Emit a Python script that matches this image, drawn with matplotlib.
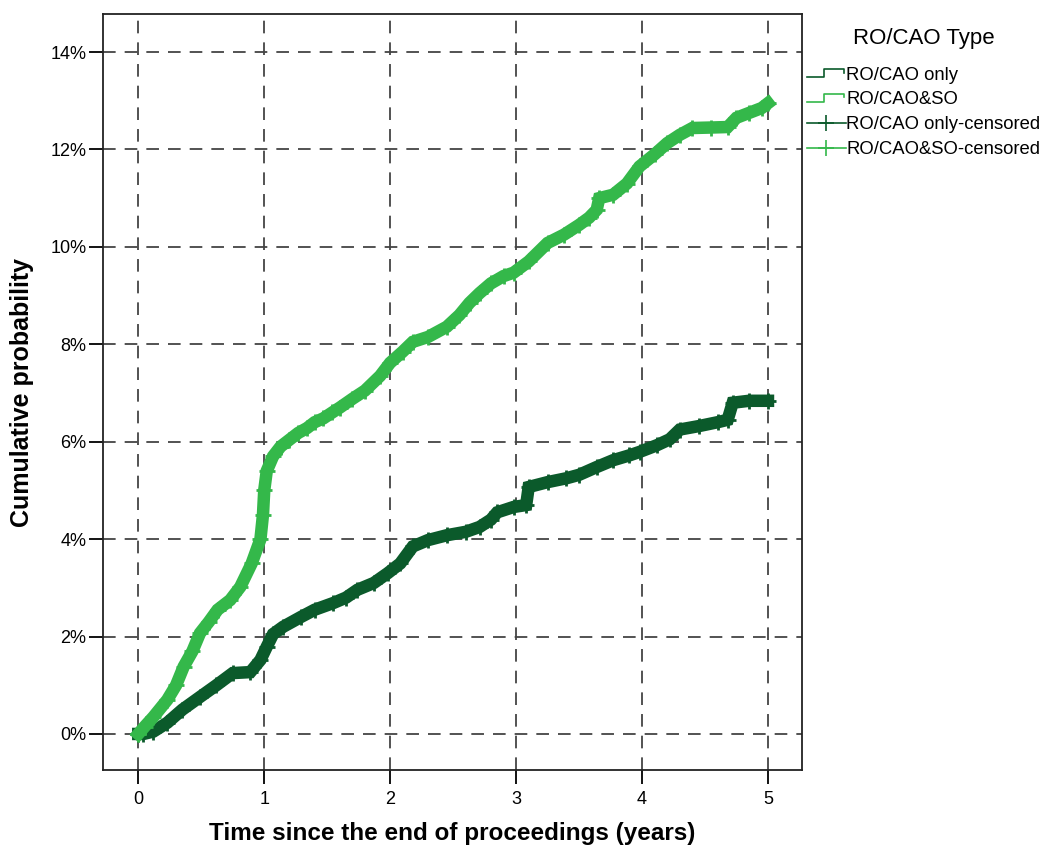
import numpy as np
import matplotlib
matplotlib.use("Agg")
import matplotlib.pyplot as plt
from matplotlib.lines import Line2D
from matplotlib.legend_handler import HandlerBase
from matplotlib.ticker import FuncFormatter

plt.rcParams['font.family'] = ['Liberation Sans', 'DejaVu Sans']

# cumulative probability (%) vs years
t_so = [0, 0.05, 0.12, 0.23, 0.30, 0.36, 0.43, 0.49, 0.56, 0.63, 0.73, 0.81, 0.90, 0.97,
        0.99, 1.00, 1.02, 1.07, 1.13, 1.20, 1.27, 1.34, 1.40, 1.47, 1.54, 1.60, 1.70, 1.80,
        1.92, 2.00, 2.10, 2.18, 2.30, 2.45, 2.55, 2.63, 2.71, 2.80, 2.90, 2.98, 3.10, 3.25,
        3.38, 3.50, 3.58, 3.64, 3.66, 3.77, 3.88, 3.98, 4.10, 4.20, 4.30, 4.40, 4.55, 4.68,
        4.75, 4.85, 4.95, 5.00]
p_so = [0, 0.15, 0.35, 0.7, 1.0, 1.38, 1.7, 2.07, 2.3, 2.55, 2.75, 3.02, 3.5, 4.0,
        4.5, 5.0, 5.4, 5.7, 5.9, 6.04, 6.18, 6.28, 6.4, 6.48, 6.6, 6.7, 6.88, 7.05,
        7.35, 7.62, 7.85, 8.05, 8.15, 8.36, 8.6, 8.85, 9.05, 9.25, 9.4, 9.47, 9.7, 10.08,
        10.25, 10.45, 10.6, 10.76, 11.0, 11.07, 11.3, 11.65, 11.9, 12.13, 12.3, 12.44, 12.45, 12.46,
        12.65, 12.75, 12.85, 12.95]

t_only = [0, 0.04, 0.12, 0.23, 0.35, 0.49, 0.62, 0.75, 0.89, 0.97, 1.02, 1.07, 1.15, 1.29,
          1.40, 1.55, 1.65, 1.74, 1.87, 1.98, 2.08, 2.18, 2.30, 2.45, 2.60, 2.71, 2.80, 2.85,
          2.98, 3.08, 3.10, 3.25, 3.40, 3.50, 3.64, 3.77, 3.90, 3.98, 4.12, 4.22, 4.30, 4.45,
          4.60, 4.68, 4.72, 4.85, 5.00]
p_only = [0, 0, 0.05, 0.23, 0.5, 0.76, 1.0, 1.25, 1.27, 1.52, 1.79, 2.05, 2.2, 2.4,
          2.55, 2.69, 2.8, 2.96, 3.1, 3.3, 3.5, 3.85, 3.98, 4.08, 4.15, 4.25, 4.4, 4.55,
          4.66, 4.7, 5.07, 5.17, 5.25, 5.32, 5.48, 5.62, 5.72, 5.79, 5.93, 6.05, 6.25, 6.32,
          6.4, 6.45, 6.8, 6.84, 6.84]

labels = ["RO/CAO only", "RO/CAO&SO", "RO/CAO only-censored", "RO/CAO&SO-censored"]
dark = "#0b5a2b"
light = "#34b84a"


class StepHandler(HandlerBase):
    def create_artists(self, legend, orig_handle, xdescent, ydescent,
                       width, height, fontsize, trans):
        x0 = -xdescent
        y0 = -ydescent
        xs = [x0, x0 + width * 0.45, x0 + width * 0.45, x0 + width * 0.95, x0 + width * 0.95]
        ys = [y0 + height * 0.2, y0 + height * 0.2, y0 + height * 0.8, y0 + height * 0.8,
              y0 + height * 0.55]
        ln = Line2D(xs, ys, color=orig_handle.get_color(), lw=1.2, transform=trans)
        return [ln]


fig = plt.figure(figsize=(10.46, 8.5), dpi=100)
ax = fig.add_axes([0.0985, 0.0941, 0.6682, 0.8894])

ax.plot(t_only, p_only, color=dark, lw=9, solid_joinstyle="miter", zorder=3)
ax.plot(t_only, p_only, ls="", marker="+", ms=12, mew=2, color=dark, zorder=3)
ax.plot(t_so, p_so, color=light, lw=9, solid_joinstyle="miter", zorder=3)
ax.plot(t_so, p_so, ls="", marker="+", ms=12, mew=2, color=light, zorder=3)

ax.set_xlim(-0.28, 5.27)
ax.set_ylim(-0.74, 14.78)
ax.set_xticks(range(0, 6))
ax.set_yticks(range(0, 15, 2))
ax.yaxis.set_major_formatter(FuncFormatter(lambda v, pos: "%d%%" % v))
ax.grid(True, ls=(0, (7, 5)), color="#444444", lw=1.3, zorder=1)
ax.tick_params(direction="out", length=10, width=1.3, labelsize=13, pad=5)
ax.tick_params(axis="y", length=10, pad=2)
for s in ax.spines.values():
    s.set_linewidth(1.3)
    s.set_color("#222222")

ax.set_xlabel("Time since the end of proceedings (years)", fontsize=17.5, fontweight="bold", labelpad=10)
ax.set_ylabel("Cumulative probability", fontsize=18, fontweight="bold", labelpad=12)

h1 = Line2D([], [], color=dark)
h2 = Line2D([], [], color=light)
h3 = Line2D([], [], color=dark, marker="+", ms=12, mew=1.2, lw=1.2)
h4 = Line2D([], [], color=light, marker="+", ms=12, mew=1.2, lw=1.2)
leg = fig.legend([h1, h2, h3, h4], labels, loc="upper left", bbox_to_anchor=(0.766, 0.974),
                 title="RO/CAO Type", frameon=False, fontsize=13.3, title_fontsize=16,
                 handlelength=2.1, handletextpad=0.05, labelspacing=0.42, borderpad=0.2,
                 borderaxespad=0.1,
                 handler_map={h1: StepHandler(), h2: StepHandler()})
leg._legend_box.sep = 13

fig.savefig("out.png", dpi=100)
